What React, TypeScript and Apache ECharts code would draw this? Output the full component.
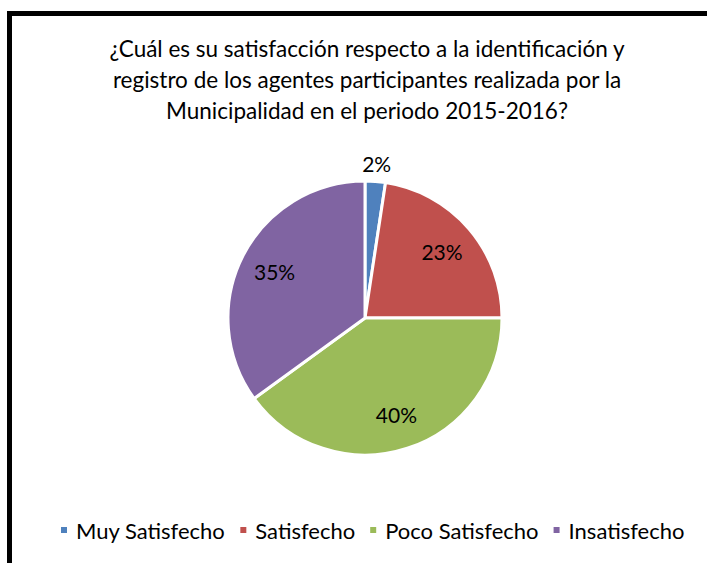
import React, { useEffect, useRef } from "react";
import * as echarts from "echarts";

const categories = ["Muy Satisfecho", "Satisfecho", "Poco Satisfecho", "Insatisfecho"];
const values = [2.4, 22.6, 40, 35];
const colors = ["#4F81BD", "#C0504D", "#9BBB59", "#8064A2"];
const titleText =
  "¿Cuál es su satisfacción respecto a la identificación y\nregistro de los agentes participantes realizada por la\nMunicipalidad en el periodo 2015-2016?";

const FONT = "Lato";

export default function App() {
  const ref = useRef<HTMLDivElement>(null);
  useEffect(() => {
    if (!ref.current) return;
    const chart = echarts.init(ref.current, undefined, { renderer: "svg" });
    const data = categories.map((name, i) => ({ name, value: values[i], itemStyle: { color: colors[i] } }));
    const labelData = categories.map((name, i) => ({
      name,
      value: values[i],
      label:
        i === 0
          ? { position: "outside", distanceToLabelLine: 0 }
          : { position: "inside" },
      labelLine: { show: false, length: 18, length2: 0 },
    }));
    chart.setOption({
      animation: false,
      backgroundColor: "#ffffff",
      title: {
        text: titleText,
        left: 362,
        top: 28,
        textAlign: "center",
        textStyle: { fontFamily: FONT, fontSize: 22.5, fontWeight: "normal", color: "#000", lineHeight: 31 },
      },
      legend: {
        data: categories,
        bottom: 22,
        left: 59,
        padding: 0,
        icon: "rect",
        itemWidth: 8,
        itemHeight: 8,
        itemGap: 13,
        textStyle: { fontFamily: FONT, fontSize: 22, color: "#000", padding: [0, 0, 0, 3] },
      },
      graphic: [
        {
          type: "rect",
          shape: { x: 9.5, y: 13.5, width: 760, height: 620 },
          style: { fill: "none", stroke: "#000", lineWidth: 5 },
          silent: true,
        },
      ],
      series: [
        {
          type: "pie",
          center: [365, 318],
          radius: 137,
          startAngle: 90,
          clockwise: true,
          avoidLabelOverlap: false,
          label: { show: false },
          labelLine: { show: false },
          itemStyle: { borderColor: "#fff", borderWidth: 3 },
          emphasis: { disabled: true },
          data,
        },
        {
          type: "pie",
          center: [365, 318],
          radius: [60, 137],
          startAngle: 90,
          clockwise: true,
          silent: true,
          legendHoverLink: false,
          avoidLabelOverlap: false,
          itemStyle: { color: "rgba(0,0,0,0)", borderWidth: 0 },
          emphasis: { disabled: true },
          label: {
            show: true,
            fontFamily: FONT,
            fontSize: 21,
            color: "#000",
            formatter: (p: any) => Math.round(p.percent) + "%",
          },
          labelLayout: (p: any) => (p.dataIndex === 0 ? { align: "center" } : {}),
          data: labelData,
        },
      ],
    });
    return () => chart.dispose();
  }, []);
  return (
    <div style={{ position: "fixed", left: 0, top: 0, width: 707, height: 563, overflow: "hidden", background: "#fff" }}>
      <div ref={ref} style={{ width: 707, height: 563 }} />
    </div>
  );
}
